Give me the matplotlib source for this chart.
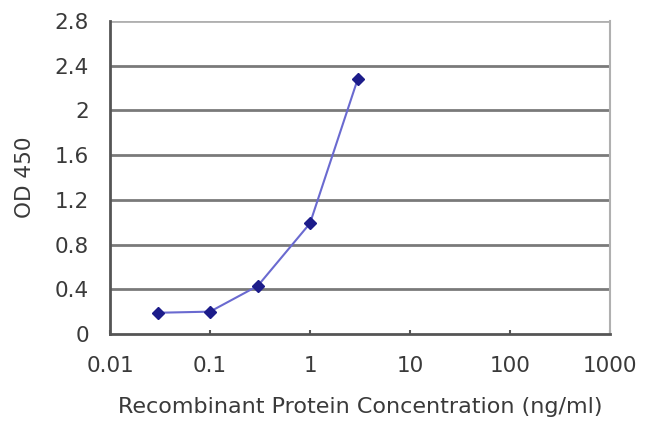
import matplotlib.pyplot as plt
from matplotlib.ticker import FixedLocator, NullLocator

plt.rcParams['font.family'] = ['DejaVu Sans']

conc = [0.03, 0.1, 0.3, 1, 3]
od = [0.19, 0.20, 0.43, 0.99, 2.28]
x_ticks = [0.01, 0.1, 1, 10, 100, 1000]
x_labels = ['0.01', '0.1', '1', '10', '100', '1000']
y_ticks = [0, 0.4, 0.8, 1.2, 1.6, 2, 2.4, 2.8]
y_labels = ['0', '0.4', '0.8', '1.2', '1.6', '2', '2.4', '2.8']

fig = plt.figure(figsize=(6.5, 4.29), dpi=100)
ax = fig.add_axes([110 / 650, 1 - 334 / 429, 500 / 650, 313 / 429])

ax.plot(conc, od, color='#6a6ad0', lw=1.5, marker='D', ms=6,
        mfc='#1c1c8a', mec='#1c1c8a', zorder=3)

ax.set_xscale('log')
ax.set_xlim(0.01, 1000)
ax.set_ylim(0, 2.8)
ax.xaxis.set_major_locator(FixedLocator(x_ticks))
ax.xaxis.set_minor_locator(NullLocator())
ax.set_xticklabels(x_labels)
ax.set_yticks(y_ticks)
ax.set_yticklabels(y_labels)

for y in y_ticks[1:]:
    ax.axhline(y, color='#7a7a7a' if y < 2.8 else '#b0b0b0', lw=2, zorder=1)

for side in ['left', 'bottom']:
    ax.spines[side].set_color('#555555')
    ax.spines[side].set_linewidth(2)
ax.spines['top'].set_visible(False)
ax.spines['right'].set_color('#b0b0b0')
ax.spines['right'].set_linewidth(1.5)

ax.tick_params(axis='x', direction='in', length=3, width=1.5, color='#555555',
               pad=16, labelsize=15.5, labelcolor='#3a3a3a')
ax.tick_params(axis='y', length=0, pad=15, labelsize=15.5, labelcolor='#3a3a3a')

ax.set_xlabel('Recombinant Protein Concentration (ng/ml)', fontsize=16,
              color='#3a3a3a', labelpad=15)
ax.set_ylabel('OD 450', fontsize=15.5, color='#3a3a3a', labelpad=14)

fig.savefig('out.png', dpi=100)
